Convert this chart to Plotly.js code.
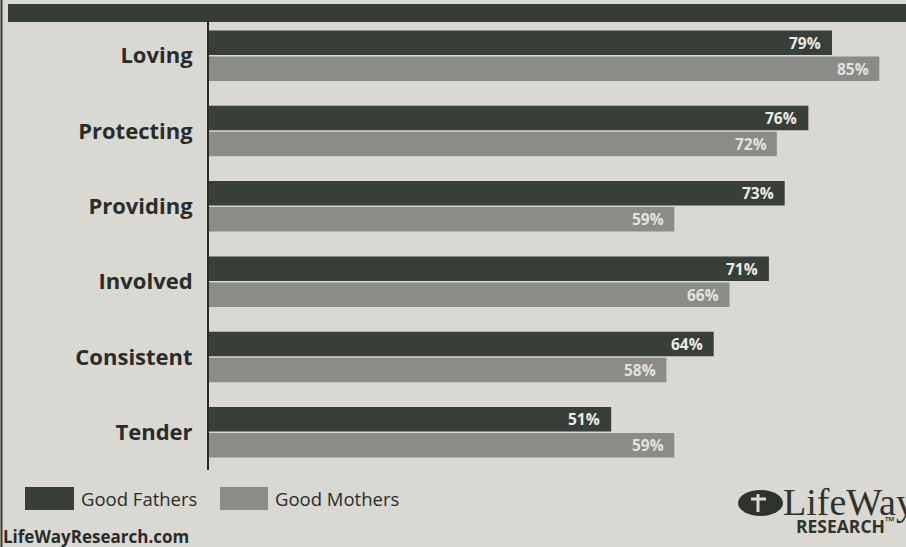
<!DOCTYPE html>
<html>
<head>
<meta charset="utf-8">
<script src="https://cdn.plot.ly/plotly-3.0.1.min.js"></script>
<style>
html,body{margin:0;padding:0;background:#d9d8d3;}
#chart{width:906px;height:547px;}
</style>
</head>
<body>
<div id="chart"></div>
<script>
// ---- data ----
var categories = ["Loving", "Protecting", "Providing", "Involved", "Consistent", "Tender"];
var fathers = [79, 76, 73, 71, 64, 51];
var mothers = [85, 72, 59, 66, 58, 59];
var seriesNames = ["Good Fathers", "Good Mothers"];
var sourceText = "LifeWayResearch.com";

// ---- layout helpers ----
var W = 906, H = 547, L = 209, R = 0, T = 18, B = 77;
var PW = W - L - R, PH = H - T - B;
function px(x) { return (x - L) / PW; }
function py(y) { return (H - B - y) / PH; }

var cFather = "#383e38", cMother = "#8b8b87", cText = "#2a2c2a", bg = "#d9d8d3";

var traces = [
  {
    type: "bar", orientation: "h", name: seriesNames[0],
    y: categories, x: fathers,
    marker: {color: cFather}, hoverinfo: "skip"
  },
  {
    type: "bar", orientation: "h", name: seriesNames[1],
    y: categories, x: mothers,
    marker: {color: cMother}, hoverinfo: "skip"
  }
];

var shapes = [
  // top band
  {type: "rect", xref: "paper", yref: "paper", x0: px(8), x1: px(906), y0: py(22), y1: py(4),
   fillcolor: "#363c36", line: {width: 0}, layer: "above"},
  // left border
  {type: "line", xref: "paper", yref: "paper", x0: px(1.5), x1: px(1.5), y0: py(0), y1: py(547),
   line: {color: "#3a3a3a", width: 2}},
  // legend swatches
  {type: "rect", xref: "paper", yref: "paper", x0: px(25), x1: px(74), y0: py(510), y1: py(487),
   fillcolor: cFather, line: {width: 0}},
  {type: "rect", xref: "paper", yref: "paper", x0: px(220), x1: px(268), y0: py(510), y1: py(487),
   fillcolor: cMother, line: {width: 0}},
  // logo icon
  {type: "circle", xref: "paper", yref: "paper", x0: px(738), x1: px(783), y0: py(516), y1: py(490),
   fillcolor: "#2e332e", line: {width: 0}},
  {type: "line", xref: "paper", yref: "paper", x0: px(758), x1: px(758), y0: py(512), y1: py(494),
   line: {color: bg, width: 3}},
  {type: "line", xref: "paper", yref: "paper", x0: px(751), x1: px(766), y0: py(499), y1: py(499),
   line: {color: bg, width: 3}}
];

var annotations = [
  {xref: "paper", yref: "paper", x: px(79), y: py(499), xanchor: "left", yanchor: "middle",
   text: seriesNames[0], showarrow: false, font: {family: "Open Sans", size: 18.5, color: cText}},
  {xref: "paper", yref: "paper", x: px(273), y: py(499), xanchor: "left", yanchor: "middle",
   text: seriesNames[1], showarrow: false, font: {family: "Open Sans", size: 18.5, color: cText}},
  {xref: "paper", yref: "paper", x: px(1), y: py(536), xanchor: "left", yanchor: "middle",
   text: sourceText, showarrow: false, font: {family: "Open Sans", size: 17, color: cText, weight: "bold"}},
  {xref: "paper", yref: "paper", x: px(781), y: py(502), xanchor: "left", yanchor: "middle",
   text: "LifeWay", showarrow: false, font: {family: "Liberation Serif", size: 38, color: "#2e332e"}},
  {xref: "paper", yref: "paper", x: px(794), y: py(525), xanchor: "left", yanchor: "middle",
   text: "RESEARCH<sup>™</sup>", showarrow: false, font: {family: "Open Sans", size: 17.5, color: "#2e332e", weight: "bold"}}
];

// value labels at bar ends, placed through the axes
categories.forEach(function (c, i) {
  annotations.push({xref: "x", yref: "y", x: fathers[i], y: c, xanchor: "right", yanchor: "middle",
    xshift: -9, yshift: 13, text: fathers[i] + "%", showarrow: false,
    font: {family: "Open Sans", size: 15.5, color: "#ecebe6", weight: "bold"}});
  annotations.push({xref: "x", yref: "y", x: mothers[i], y: c, xanchor: "right", yanchor: "middle",
    xshift: -8, yshift: -13, text: mothers[i] + "%", showarrow: false,
    font: {family: "Open Sans", size: 15.5, color: "#e4e3de", weight: "bold"}});
});

var layout = {
  width: W, height: H,
  margin: {l: L, r: R, t: T, b: B, pad: 0},
  paper_bgcolor: bg, plot_bgcolor: bg,
  showlegend: false,
  barmode: "group", bargap: 0.31, bargroupgap: 0.06,
  xaxis: {range: [0, PW / 7.886], showgrid: false, zeroline: false, showticklabels: false, showline: false, fixedrange: true},
  yaxis: {autorange: "reversed", showgrid: false, zeroline: false, showline: true, linecolor: "#2a2c2a", linewidth: 2,
          ticks: "", ticklabelstandoff: 10,
          tickfont: {family: "Open Sans", size: 22, color: cText, weight: "bold"}, fixedrange: true},
  shapes: shapes,
  annotations: annotations
};

Plotly.newPlot("chart", traces, layout, {displayModeBar: false, staticPlot: true});
</script>
</body>
</html>
